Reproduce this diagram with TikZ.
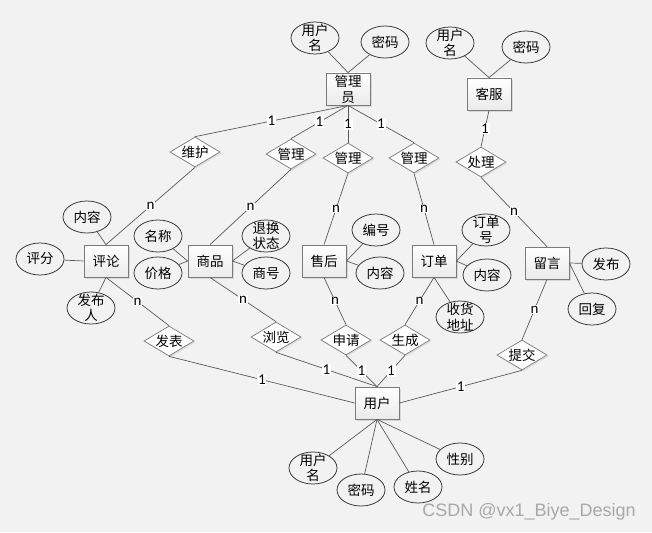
\documentclass[tikz,border=0pt]{standalone}
\usepackage{fontspec}
\newfontfamily\cjk{Noto Sans CJK SC}
\newfontfamily\lab{Carlito}
\newfontfamily\wm{Liberation Sans}
\usetikzlibrary{shapes.geometric,shadows}
\definecolor{bg}{HTML}{F2F2F2}
\definecolor{ln}{HTML}{5A5A5A}
\definecolor{boxc}{HTML}{7A7A7A}
\definecolor{elc}{HTML}{303030}
\definecolor{wmc}{HTML}{A8A8A8}
\begin{document}
\begin{tikzpicture}[x=1pt,y=-1pt,
  cjkf/.style={font=\cjk\fontsize{13.5}{16}\selectfont},
  ent/.style={rectangle, draw=boxc, line width=0.8pt, top color=white, bottom color=gray!16,
    minimum width=44pt, minimum height=32pt, inner sep=0pt, align=center, cjkf,
    drop shadow={shadow xshift=1.6pt, shadow yshift=-1.6pt, opacity=0.22}},
  rel/.style={diamond, aspect=1.7, draw=boxc, line width=0.7pt, fill=white,
    minimum width=50pt, minimum height=30pt, inner sep=0pt, cjkf,
    drop shadow={shadow xshift=1.4pt, shadow yshift=-1.4pt, opacity=0.18}},
  attr/.style={ellipse, draw=elc, line width=0.75pt, minimum width=48pt, minimum height=32pt,
    inner sep=0pt, cjkf},
  lbl2/.style={align=center, inner sep=0pt, font=\cjk\fontsize{13.5}{15.5}\selectfont},
  con/.style={draw=ln, line width=0.7pt},
  card/.style={fill=white, inner sep=0.7pt, font=\lab\fontsize{15}{15}\selectfont}
]
\useasboundingbox (0,0) rectangle (652,532);
\fill[bg] (0,0) rectangle (652,532);

% entities
\node[ent] (gly) at (348,89) {管理\\员};
\node[ent] (kf) at (489,94) {客服};
\node[ent] (pl) at (106,261) {评论};
\node[ent] (sp) at (210,261) {商品};
\node[ent] (sh) at (324,261) {售后};
\node[ent] (dd) at (434,261) {订单};
\node[ent] (ly) at (547,263) {留言};
\node[ent] (yh) at (377,403) {用户};

% relationships
\node[rel] (wh) at (195,152) {维护};
\node[rel] (gl1) at (291,154) {管理};
\node[rel] (gl2) at (348,158) {管理};
\node[rel] (gl3) at (414,158) {管理};
\node[rel] (cl) at (481,162) {处理};
\node[rel] (fb) at (169,341) {发表};
\node[rel] (ll) at (276,337) {浏览};
\node[rel] (sq) at (346,340) {申请};
\node[rel] (sc) at (405,340) {生成};
\node[rel] (tj) at (522,355) {提交};

% attributes
\node[attr, label={[lbl2]center:{用户\\名}}] (a1) at (315,38) {};
\node[attr] (a2) at (385,42) {密码};
\node[attr, label={[lbl2]center:{用户\\名}}] (b1) at (450,43) {};
\node[attr] (b2) at (526,47) {密码};
\node[attr] (c1) at (87,217) {内容};
\node[attr] (c2) at (40,259) {评分};
\node[attr, label={[lbl2]center:{发布\\人}}] (c3) at (91,308) {};
\node[attr] (d1) at (158,236) {名称};
\node[attr] (d2) at (158,273) {价格};
\node[attr, label={[lbl2]center:{退换\\状态}}] (d3) at (266,236) {};
\node[attr] (d4) at (266,273) {商号};
\node[attr] (e1) at (376,230) {编号};
\node[attr] (e2) at (380,273) {内容};
\node[attr, label={[lbl2]center:{订单\\号}}] (f1) at (486,230) {};
\node[attr] (f2) at (487,275) {内容};
\node[attr, label={[lbl2]center:{收货\\地址}}] (f3) at (460,317) {};
\node[attr] (g1) at (606,264) {发布};
\node[attr] (g2) at (592,309) {回复};
\node[attr, label={[lbl2]center:{用户\\名}}] (h1) at (313,468) {};
\node[attr] (h2) at (361,490) {密码};
\node[attr] (h3) at (418,487) {姓名};
\node[attr] (h4) at (460,459) {性别};

% attribute links
\draw[con] (a1) -- (gly.north);
\draw[con] (a2) -- (gly.north);
\draw[con] (b1) -- (kf.north);
\draw[con] (b2) -- (kf.north);
\draw[con] (c1) -- (pl.north);
\draw[con] (c2) -- (pl.west);
\draw[con] (c3) -- (pl.south);
\draw[con] (d1) -- (sp.west);
\draw[con] (d2) -- (sp.west);
\draw[con] (d3) -- (sp.east);
\draw[con] (d4) -- (sp.east);
\draw[con] (e1) -- (sh.east);
\draw[con] (e2) -- (sh.east);
\draw[con] (f1) -- (dd.east);
\draw[con] (f2) -- (dd.east);
\draw[con] (f3) -- (dd.south);
\draw[con] (g1) -- (ly.east);
\draw[con] (g2) -- (ly.east);
\draw[con] (h1) -- (yh.south);
\draw[con] (h2) -- (yh.south);
\draw[con] (h3) -- (yh.south);
\draw[con] (h4) -- (yh.south);

% relationship links
\draw[con] (gly.south) -- node[card] {1} (wh.north);
\draw[con] (wh.south) -- node[card] {n} (pl.north);
\draw[con] (gly.south) -- node[card] {1} (gl1.north);
\draw[con] (gl1.south) -- node[card] {n} (sp.north);
\draw[con] (gly.south) -- node[card] {1} (gl2.north);
\draw[con] (gl2.south) -- node[card] {n} (sh.north);
\draw[con] (gly.south) -- node[card] {1} (gl3.north);
\draw[con] (gl3.south) -- node[card] {n} (dd.north);
\draw[con] (kf.south) -- node[card] {1} (cl.north);
\draw[con] (cl.south) -- node[card] {n} (ly.north);
\draw[con] (pl.south) -- node[card] {n} (fb.north);
\draw[con] (fb.south) -- node[card] {1} (yh.west);
\draw[con] (sp.south) -- node[card] {n} (ll.north);
\draw[con] (ll.south) -- node[card] {1} (yh.north);
\draw[con] (sh.south) -- node[card] {n} (sq.north);
\draw[con] (sq.south) -- node[card] {1} (yh.north);
\draw[con] (dd.south) -- node[card] {n} (sc.north);
\draw[con] (sc.south) -- node[card] {1} (yh.north);
\draw[con] (ly.south) -- node[card] {n} (tj.north);
\draw[con] (tj.south) -- node[card] {1} (yh.east);

\node[font=\wm\fontsize{18}{18}\selectfont, text=wmc, inner sep=0pt] (wmk) at (529,512) {CSDN @vx1\_Biye\_Design};
\end{tikzpicture}
\end{document}
